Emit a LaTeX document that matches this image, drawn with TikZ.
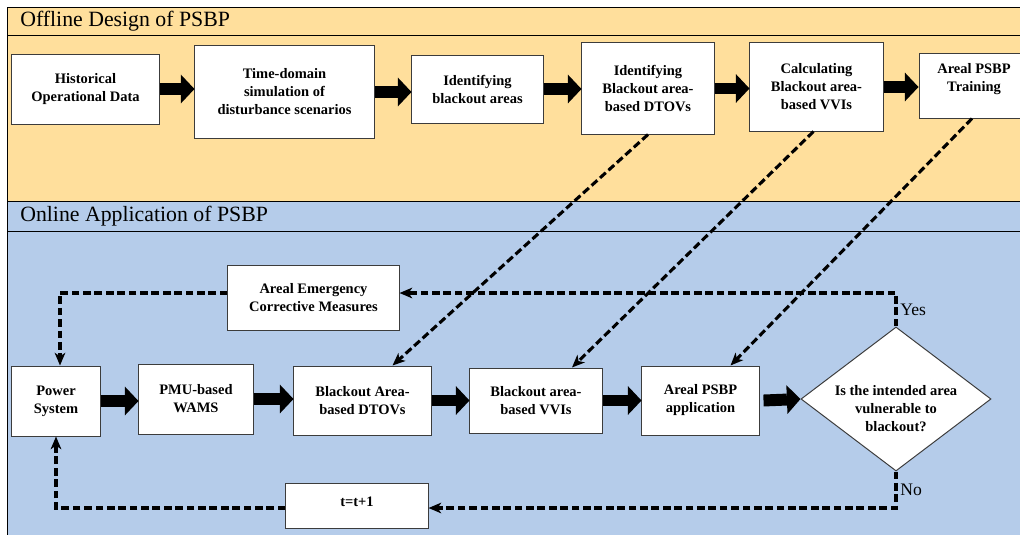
\documentclass[tikz,border=0pt]{standalone}
\usepackage{fontspec}
\setmainfont{Liberation Serif}
\usetikzlibrary{arrows.meta,shapes.geometric,calc}
\definecolor{OfflineClr}{RGB}{255,223,156}
\definecolor{OnlineClr}{RGB}{181,204,234}
\definecolor{BoxClr}{RGB}{60,60,60}

\begin{document}
\begin{tikzpicture}[x=0.025cm,y=-0.025cm,
  boxfont/.style={font=\fontsize{10.3}{12.8}\selectfont\bfseries},
  box/.style={draw=BoxClr,line width=0.7pt,fill=white,align=center,inner sep=2pt,boxfont},
  fatarrow/.style={line width=8.5pt,-{Triangle[length=0.34cm,width=0.72cm,line width=0pt]}},
  dashline/.style={line width=2.2pt,dash pattern=on 5.5pt off 2.6pt},
  dasharrow/.style={dashline,-{Stealth[length=9pt,width=7.5pt,inset=2.5pt]}},
  band/.style={font=\fontsize{15.5}{18}\selectfont,anchor=west,inner sep=0pt},
  answer/.style={font=\fontsize{12.5}{15}\selectfont,right,inner sep=2pt}]
\clip (0,0) rectangle (1020,534);
\fill[white] (0,0) rectangle (1020,534);
\filldraw[fill=OfflineClr,line width=0.7pt] (7,7) rectangle (1030,201);
\filldraw[fill=OnlineClr,line width=0.7pt] (7,201) rectangle (1030,540);
\draw[line width=0.7pt] (7,35) -- (1030,35) (7,231) -- (1030,231);
\node[band] (offline) at (20,21) {Offline Design of PSBP};
\node[band] (online) at (20,216) {Online Application of PSBP};

\node[box,minimum width=3.675cm,minimum height=1.75cm] (hist) at (85.5,89) {Historical\\Operational Data};
\node[box,minimum width=4.475cm,minimum height=2.3cm] (sim) at (284.5,92) {Time-domain\\simulation of\\disturbance scenarios};
\node[box,minimum width=3.275cm,minimum height=1.7cm] (ident) at (477.5,89) {Identifying\\blackout areas};
\node[box,minimum width=3.3cm,minimum height=2.275cm] (dtov) at (648,88.5) {Identifying\\Blackout area-\\based DTOVs};
\node[box,minimum width=3.325cm,minimum height=2.2cm] (vvi) at (816.5,87) {Calculating\\Blackout area-\\based VVIs};
\node[box,minimum width=2.75cm,minimum height=1.625cm,text depth=11pt] (train) at (974,85.5) {Areal PSBP\\Training};

\node[box,minimum width=4.275cm,minimum height=1.625cm] (emerg) at (313.5,297.5) {Areal Emergency\\Corrective Measures};
\node[box,minimum width=2.2cm,minimum height=1.75cm] (power) at (56,401) {Power\\System};
\node[box,minimum width=2.85cm,minimum height=1.75cm] (wams) at (196,399) {PMU-based\\WAMS};
\node[box,minimum width=3.425cm,minimum height=1.725cm] (bdtov) at (362.5,400.5) {Blackout Area-\\based DTOVs};
\node[box,minimum width=3.3cm,minimum height=1.625cm] (bvvi) at (536,400.5) {Blackout area-\\based VVIs};
\node[box,minimum width=2.925cm,minimum height=1.725cm] (app) at (700.5,400.5) {Areal PSBP\\application};
\node[box,shape=diamond,inner sep=0pt,minimum width=4.75cm,minimum height=3.6cm] (vuln) at (896,399) {};
\node[boxfont,align=center] (vulnq) at ($(vuln.center)+(0,10)$) {Is the intended area\\vulnerable to\\blackout?};
\node[box,minimum width=3.55cm,minimum height=1.125cm,text depth=6pt] (tnext) at (357,505.5) {t=t+1};

\foreach \a/\b in {hist/sim,sim/ident,ident/dtov,dtov/vvi,vvi/train,power/wams,wams/bdtov,bdtov/bvvi,bvvi/app}
  \draw[fatarrow] (\a.east) -- (\a.east -| \b.west);
\draw[fatarrow] ($(app.east)+(4,0)$) -- (vuln.west);

\draw[dasharrow] (dtov.south) -- ($(bdtov.north)+(30,0)$);
\draw[dasharrow] ($(vvi.south)+(-3,0)$) -- ($(bvvi.north)+(36,0)$);
\draw[dasharrow] ($(train.south)+(-2,0)$) -- ($(app.north)+(30,0)$);

\draw[dasharrow] (vuln.north) |- node[answer,pos=0.25] {Yes} ($(emerg.east)+(0,-4.5)$);
\draw[dasharrow] ($(emerg.west)+(0,-4.5)$) -| ($(power.north)+(4,0)$);
\draw[dasharrow] (vuln.south) |- node[answer,pos=0.25] {No} ($(tnext.east)+(0,2.5)$);
\draw[dasharrow] ($(tnext.west)+(0,2.5)$) -| (power.south);
\end{tikzpicture}
\end{document}
